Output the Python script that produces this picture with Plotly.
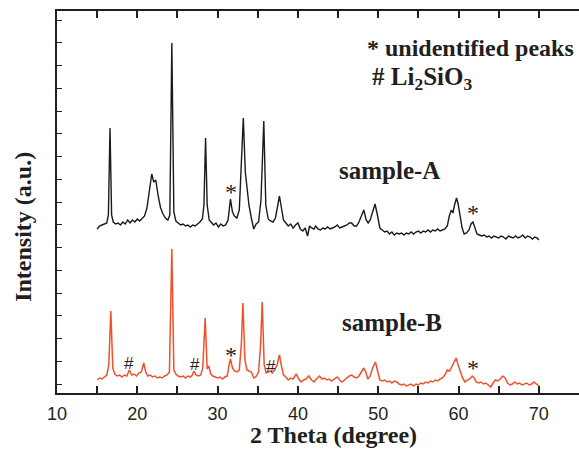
import plotly.graph_objects as go

# --- sample-A (upper pattern), 2-theta in degrees vs intensity (a.u.) ---
two_theta_a = [
    15.0, 15.3, 15.6, 15.9, 16.2, 16.4, 16.6, 16.8, 17.0, 17.3, 17.6, 17.9, 18.2, 18.5, 18.8,
    19.1, 19.4, 19.7, 20.0, 20.3, 20.6, 20.9, 21.2, 21.5, 21.8, 22.05, 22.3, 22.6, 22.9, 23.2,
    23.5, 23.8, 24.05, 24.3, 24.55, 24.8, 25.1, 25.4, 25.7, 26.0, 26.3, 26.6, 26.9, 27.2, 27.5,
    27.8, 28.1, 28.3, 28.5, 28.7, 28.95, 29.2, 29.5, 29.8, 30.1, 30.4, 30.7, 31.0, 31.3, 31.6,
    31.85, 32.1, 32.4, 32.7, 32.95, 33.2, 33.45, 33.6, 33.9, 34.2, 34.5, 34.8, 35.1, 35.4, 35.75,
    36.0, 36.3, 36.6, 36.9, 37.2, 37.45, 37.7, 37.95, 38.2, 38.5, 38.8, 39.1, 39.4, 39.7, 40.0,
    40.3, 40.6, 40.9, 41.2, 41.45, 41.7, 42.0, 42.2, 42.5, 42.8, 43.1, 43.4, 43.7, 44.0, 44.3,
    44.6, 44.9, 45.2, 45.5, 45.8, 46.1, 46.4, 46.7, 47.0, 47.3, 47.6, 47.9, 48.2, 48.5, 48.75,
    49.0, 49.3, 49.6, 49.9, 50.2, 50.5, 50.8, 51.1, 51.4, 51.7, 52.0, 52.3, 52.6, 52.9, 53.2,
    53.5, 53.8, 54.1, 54.4, 54.7, 55.0, 55.3, 55.6, 55.9, 56.2, 56.5, 56.8, 57.1, 57.4, 57.7,
    58.0, 58.3, 58.6, 58.85, 59.1, 59.3, 59.5, 59.75, 59.95, 60.2, 60.45, 60.7, 61.0, 61.3, 61.55,
    61.8, 62.05, 62.3, 62.6, 62.9, 63.2, 63.5, 63.8, 64.1, 64.4, 64.7, 65.0, 65.3, 65.6, 65.9,
    66.2, 66.5, 66.8, 67.1, 67.4, 67.7, 68.0, 68.3, 68.6, 68.9, 69.2, 69.5, 69.8, 70.0,
]
intensity_a = [
    164, 167, 168, 169, 170, 178, 265, 178, 171, 169, 170, 168, 171, 169, 173,
    170, 173, 171, 174, 172, 175, 177, 185, 201, 219, 211, 213, 197, 185, 179,
    175, 173, 178, 350, 181, 172, 170, 168, 169, 167, 168, 166, 168, 167, 169,
    171, 174, 188, 255, 188, 173, 171, 168, 170, 166, 169, 167, 168, 173, 194,
    181, 177, 175, 183, 223, 275, 221, 211, 188, 175, 164, 169, 171, 193, 272,
    188, 174, 172, 171, 175, 188, 197, 185, 173, 170, 167, 169, 165, 168, 170,
    164, 162, 165, 157, 167, 165, 164, 167, 164, 163, 165, 164, 166, 164, 165,
    166, 168, 165, 166, 167, 168, 170, 170, 167, 167, 171, 177, 183, 173, 170,
    173, 181, 189, 178, 165, 163, 161, 162, 159, 161, 158, 160, 159, 160, 158,
    160, 159, 161, 159, 161, 162, 160, 162, 161, 163, 161, 163, 162, 164, 162,
    163, 164, 167, 177, 183, 180, 188, 195, 189, 178, 165, 159, 160, 163, 169,
    171, 165, 159, 158, 157, 158, 156, 157, 155, 157, 156, 155, 157, 156, 154,
    157, 156, 155, 157, 155, 156, 158, 155, 157, 156, 154, 156, 155, 153,
]

# --- sample-B (lower pattern) ---
two_theta_b = [
    15.0, 15.3, 15.6, 15.9, 16.2, 16.45, 16.7, 16.95, 17.2, 17.5, 17.8, 18.1, 18.4, 18.7, 19.0,
    19.3, 19.6, 19.9, 20.2, 20.5, 20.8, 21.05, 21.3, 21.6, 21.9, 22.2, 22.5, 22.8, 23.1, 23.4,
    23.7, 24.0, 24.3, 24.55, 24.8, 25.1, 25.4, 25.7, 26.0, 26.3, 26.6, 26.85, 27.05, 27.3, 27.6,
    27.9, 28.15, 28.45, 28.7, 28.9, 29.15, 29.4, 29.7, 30.0, 30.3, 30.6, 30.9, 31.2, 31.45, 31.6,
    31.85, 32.1, 32.4, 32.7, 32.95, 33.15, 33.4, 33.65, 33.9, 34.2, 34.5, 34.75, 35.1, 35.35, 35.55,
    35.8, 36.05, 36.3, 36.55, 36.8, 37.1, 37.4, 37.7, 37.95, 38.2, 38.5, 38.8, 39.1, 39.4, 39.8,
    40.1, 40.4, 40.7, 41.0, 41.35, 41.7, 42.0, 42.3, 42.7, 43.0, 43.3, 43.6, 43.9, 44.2, 44.5,
    44.9, 45.2, 45.5, 45.8, 46.1, 46.4, 46.7, 47.0, 47.3, 47.6, 47.9, 48.2, 48.45, 48.7, 49.0,
    49.3, 49.65, 49.95, 50.2, 50.5, 50.8, 51.1, 51.4, 51.7, 52.0, 52.3, 52.6, 52.9, 53.2, 53.5,
    53.8, 54.1, 54.4, 54.7, 55.0, 55.3, 55.6, 55.9, 56.2, 56.5, 56.8, 57.1, 57.4, 57.7, 58.0,
    58.3, 58.6, 58.9, 59.2, 59.45, 59.7, 59.95, 60.2, 60.5, 60.8, 61.1, 61.4, 61.7, 61.95, 62.2,
    62.5, 62.8, 63.1, 63.4, 63.7, 64.0, 64.3, 64.6, 64.9, 65.2, 65.5, 65.8, 66.1, 66.4, 66.7,
    67.0, 67.3, 67.6, 67.9, 68.2, 68.5, 68.8, 69.1, 69.4, 69.7, 70.0,
]
intensity_b = [
    13, 15, 14, 16, 18, 28, 82, 25, 19, 17, 18, 16, 18, 17, 23,
    18, 19, 17, 20, 21, 30, 21, 17, 18, 16, 17, 15, 16, 15, 17,
    18, 21, 144, 23, 19, 17, 16, 17, 15, 17, 16, 18, 22, 18, 17,
    18, 25, 75, 24, 27, 19, 17, 16, 15, 16, 14, 16, 17, 29, 34,
    25, 22, 21, 23, 48, 90, 33, 23, 22, 21, 15, 16, 21, 48, 91,
    28, 20, 21, 22, 20, 23, 28, 38, 27, 18, 16, 13, 15, 14, 19,
    14, 11, 13, 14, 17, 13, 11, 14, 17, 14, 15, 13, 14, 12, 14,
    16, 13, 11, 13, 15, 17, 18, 16, 15, 17, 21, 25, 21, 14, 17,
    25, 31, 21, 13, 12, 13, 11, 12, 10, 12, 11, 9, 8, 9, 7,
    8, 9, 7, 9, 8, 10, 9, 11, 10, 12, 11, 13, 12, 14, 15,
    18, 23, 22, 27, 31, 35, 28, 23, 15, 11, 13, 14, 17, 15, 11,
    10, 11, 9, 10, 8, 6, 10, 13, 12, 14, 17, 15, 10, 8, 9,
    11, 9, 10, 8, 9, 10, 8, 9, 11, 9, 7,
]

# peak markers: "*" unidentified, "#" Li2SiO3
mark_x = [31.7, 61.8, 31.7, 61.8, 19.0, 27.2, 36.7]
mark_y = [201, 180, 38, 25, 30, 29, 27]
mark_text = ["*", "*", "*", "*", "#", "#", "#"]

# curve labels and key text
label_x = [44.9, 45.3]
label_y = [223, 71]
label_text = ["sample-A", "sample-B"]

key_x = [48.35, 48.95]
key_y = [345, 315]
key_text = ["* unidentified peaks", "# Li<sub>2</sub>SiO<sub>3</sub>"]
key_size = [24, 25]

SERIF = "Liberation Serif, Times New Roman, serif"
SANS = "Liberation Sans, Arial, sans-serif"
INK = "#231f20"

fig = go.Figure()
fig.add_trace(go.Scatter(x=two_theta_a, y=intensity_a, mode="lines",
                         line=dict(color="#1a1a1a", width=1.4), showlegend=False))
fig.add_trace(go.Scatter(x=two_theta_b, y=intensity_b, mode="lines",
                         line=dict(color="#f0502a", width=1.5), showlegend=False))

for x, y, t in zip(mark_x, mark_y, mark_text):
    if t == "*":
        font = dict(family=SERIF, size=24, color=INK)
    else:
        font = dict(family=SANS, size=17, color=INK)
    fig.add_annotation(x=x, y=y, text=t, showarrow=False, xanchor="center",
                       yanchor="middle", font=font)

for x, y, t in zip(label_x, label_y, label_text):
    fig.add_annotation(x=x, y=y, text="<b>%s</b>" % t, showarrow=False,
                       xanchor="left", yanchor="middle",
                       font=dict(family=SERIF, size=25, color=INK))

for x, y, t, s in zip(key_x, key_y, key_text, key_size):
    fig.add_annotation(x=x, y=y, text="<b>%s</b>" % t, showarrow=False,
                       xanchor="left", yanchor="middle",
                       font=dict(family=SERIF, size=s, color=INK))

# axis titles
fig.add_annotation(x=306.7 / 579, y=0, xref="paper", yref="paper",
                   text="<b>2 Theta (degree)</b>", showarrow=False,
                   xanchor="center", yanchor="top", yshift=-27,
                   font=dict(family=SERIF, size=24, color=INK))
fig.add_annotation(x=0, y=0.435, xref="paper", yref="paper",
                   text="<b>Intensity (a.u.)</b>", showarrow=False, textangle=-90,
                   xanchor="center", yanchor="middle", xshift=-34,
                   font=dict(family=SERIF, size=24, color=INK))

fig.update_xaxes(range=[10, 75], showline=True, linecolor=INK, linewidth=2,
                 mirror="ticks", ticks="inside", ticklen=7, tickwidth=1.5, tickcolor=INK,
                 tick0=10, dtick=10, showgrid=False, zeroline=False,
                 ticklabelstandoff=3,
                 minor=dict(ticks="inside", dtick=5, ticklen=7, tickwidth=1.5, tickcolor=INK),
                 tickfont=dict(family=SANS, size=18, color=INK))
fig.update_yaxes(range=[0, 382], showline=True, linecolor=INK, linewidth=2,
                 ticks="inside", ticklen=5, tickwidth=1, tickcolor=INK,
                 tick0=9, dtick=22.75, showticklabels=False, showgrid=False, zeroline=False)

fig.update_layout(width=579, height=451, margin=dict(l=57, r=0, t=11, b=58),
                  plot_bgcolor="white", paper_bgcolor="white")

fig.write_html("out.html")
